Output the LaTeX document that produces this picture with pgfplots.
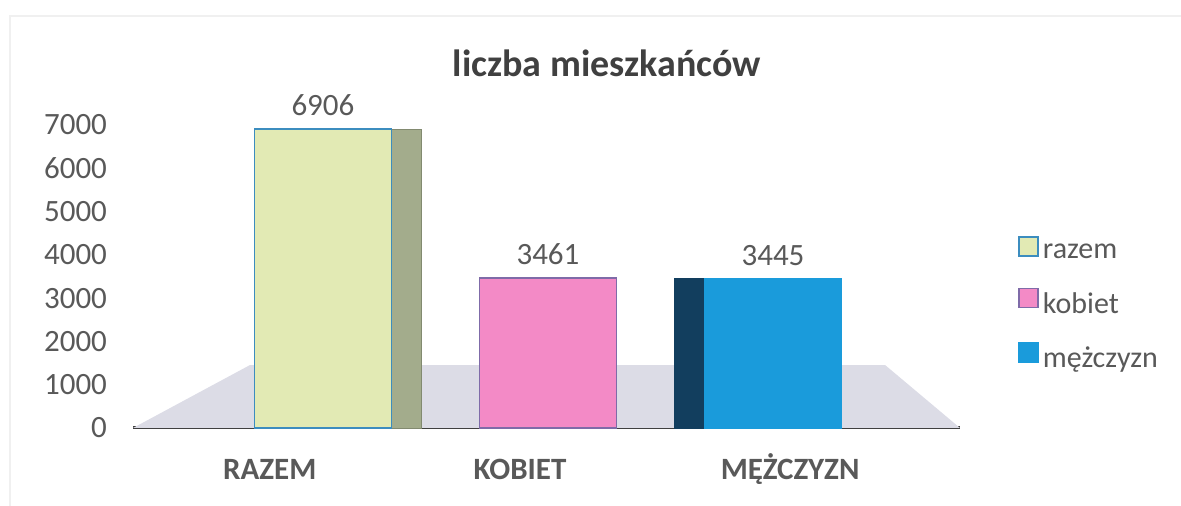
\documentclass[border=0pt]{standalone}
\usepackage{pgfplots}
\pgfplotsset{compat=1.18}
\usepackage{fontspec}
\setmainfont{Carlito}
\definecolor{txt}{HTML}{595959}
\definecolor{razemF}{HTML}{E2EAB4}
\definecolor{razemB}{HTML}{3C8DBF}
\definecolor{razemS}{HTML}{A3AC8C}
\definecolor{kobF}{HTML}{F38AC6}
\definecolor{kobB}{HTML}{7F6BA8}
\definecolor{menF}{HTML}{1A9BDB}
\definecolor{menS}{HTML}{123E5E}
\definecolor{floorc}{HTML}{DCDCE6}
\begin{document}
\begin{tikzpicture}
\path[use as bounding box] (0,0) rectangle (590.5pt,253pt);
\draw[color=black!6, line width=1pt] (5pt,0pt) -- (5pt,245pt) -- (590.5pt,245pt);
\begin{axis}[
  at={(66.5pt,39pt)}, anchor=south west,
  scale only axis, width=413.5pt, height=151.5pt,
  xmin=-0.844, xmax=2.831, ymin=0, ymax=7000,
  axis x line*=bottom, axis y line*=left,
  x axis line style={draw=black!75, line width=1.5pt},
  y axis line style={draw=none},
  major tick length=0pt,
  ytick={0,1000,2000,3000,4000,5000,6000,7000},
  xtick={-0.236,0.876,2.076},
  xticklabels={RAZEM,KOBIET,MĘŻCZYZN},
  /pgf/number format/assume math mode=true,
  /pgf/number format/.cd, 1000 sep={}, /pgfplots/.cd,
  tick label style={color=txt, font=\fontsize{15.5}{18}\selectfont},
  xticklabel style={font=\fontsize{15.5}{18}\selectfont\bfseries, anchor=base, yshift=-26pt},
  yticklabel style={anchor=east, xshift=-9.5pt},
  title={liczba mieszkańców},
  title style={at={(axis description cs:0.573,1.122)}, anchor=base, color=black!75, font=\fontsize{19}{22}\selectfont\bfseries},
  ybar, bar width=68.5pt,
  clip=false,
  legend style={at={(axis description cs:1.070,0.635)}, anchor=north west, draw=none, fill=none,
    font=\fontsize{15}{18}\selectfont, text=txt, row sep=11pt, inner sep=0pt,
    /tikz/every even column/.append style={column sep=4pt}},
  legend cell align=left,
  legend image code/.code={\draw[#1, line width=0.8pt] (0pt,-1.5pt) rectangle (9.5pt,8pt);},
  nodes near coords style={color=txt, font=\fontsize{15.5}{18}\selectfont, yshift=3pt},
]
% floor (decoration)
\fill[floorc] (axis cs:-0.844,0) -- (axis cs:2.831,0) -- (axis cs:2.498,1455) -- (axis cs:-0.324,1455) -- cycle;
% side faces
\addplot[fill=razemS, draw=razemS!80!black, bar shift=15pt, forget plot] coordinates {(0,6906)};
\addplot[fill=menS, draw=menS, bar shift=-15pt, forget plot] coordinates {(2,3445)};
% fronts
\addplot[fill=razemF, draw=razemB, line width=0.8pt, bar shift=0pt, nodes near coords] coordinates {(0,6906)};
\addlegendentry{razem}
\addplot[fill=kobF, draw=kobB, line width=0.8pt, bar shift=0pt, nodes near coords] coordinates {(1,3461)};
\addlegendentry{kobiet}
\addplot[fill=menF, draw=menF, line width=0.8pt, bar shift=0pt, nodes near coords] coordinates {(2,3445)};
\addlegendentry{mężczyzn}
\end{axis}
\end{tikzpicture}
\end{document}
